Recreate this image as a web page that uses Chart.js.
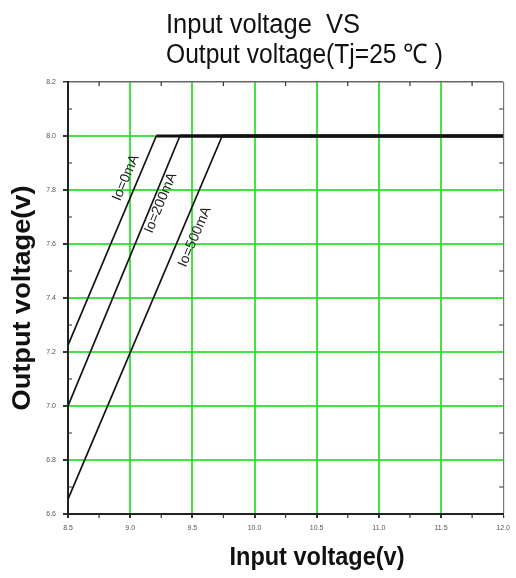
<!DOCTYPE html>
<html>
<head>
<meta charset="utf-8">
<script src="https://cdn.jsdelivr.net/npm/chart.js@4.4.1/dist/chart.umd.min.js"></script>
<style>
  html, body { margin: 0; padding: 0; background: #fff; }
  #wrap { width: 516px; height: 578px; }
</style>
</head>
<body>
<div id="wrap"><canvas id="voltCanvas"></canvas></div>
<script>
// axis ticks
const xTicks = [8.5, 9.0, 9.5, 10.0, 10.5, 11.0, 11.5, 12.0];
const yTicks = [6.6, 6.8, 7.0, 7.2, 7.4, 7.6, 7.8, 8.0, 8.2];
const xMinor = [8.75, 9.25, 9.75, 10.25, 10.75, 11.25, 11.75];
const yMinor = [6.7, 6.9, 7.1, 7.3, 7.5, 7.7, 7.9, 8.1];

// series (input voltage -> output voltage)
const seriesNames = ['Io=0mA', 'Io=200mA', 'Io=500mA'];
const io0X = [8.5, 9.21, 12.0];
const io0Y = [7.225, 8.0, 8.0];
const io200X = [8.5, 9.40, 12.0];
const io200Y = [7.0, 8.0, 8.0];
const io500X = [8.5, 9.74, 12.0];
const io500Y = [6.655, 8.0, 8.0];

// where the rotated series names sit
const labelX = [8.965, 9.245, 9.52];
const labelY = [7.845, 7.752, 7.626];

const titleLines = ['Input voltage  VS', 'Output voltage(Tj=25 \u2103 )'];
const xTitle = 'Input voltage(v)';
const yTitle = 'Output voltage(v)';

const toPoints = (xs, ys) => xs.map((x, i) => ({ x: x, y: ys[i] }));
const allX = [io0X, io200X, io500X];
const allY = [io0Y, io200Y, io500Y];

const datasets = allX.map((xs, i) => ({
  label: seriesNames[i],
  data: toPoints(xs, allY[i]),
  borderColor: '#111',
  borderWidth: 1.7,
  pointRadius: 0,
  tension: 0,
  segment: {
    borderWidth: ctx => (ctx.p0.parsed.y === ctx.p1.parsed.y ? 3 : 1.7)
  }
}));

// draw text squeezed/stretched to a given width
function fitText(ctx, text, x, y, font, width, rot) {
  ctx.save();
  ctx.font = font;
  const w = ctx.measureText(text).width;
  ctx.translate(x, y);
  if (rot) ctx.rotate(rot);
  ctx.scale(width / w, 1);
  ctx.fillText(text, 0, 0);
  ctx.restore();
}

const decorPlugin = {
  id: 'decor',
  afterDatasetsDraw(chart) {
    const ctx = chart.ctx;
    const xs = chart.scales.x, ys = chart.scales.y;
    ctx.save();
    ctx.fillStyle = '#222';
    ctx.font = '14px "Liberation Sans", Arial, sans-serif';
    ctx.textAlign = 'center';
    ctx.textBaseline = 'middle';
    seriesNames.forEach((name, i) => {
      const dx = xs.getPixelForValue(allX[i][1]) - xs.getPixelForValue(allX[i][0]);
      const dy = ys.getPixelForValue(allY[i][1]) - ys.getPixelForValue(allY[i][0]);
      ctx.save();
      ctx.translate(xs.getPixelForValue(labelX[i]), ys.getPixelForValue(labelY[i]));
      ctx.rotate(Math.atan2(dy, dx));
      ctx.fillText(name, 0, 0);
      ctx.restore();
    });
    ctx.restore();
  },
  afterDraw(chart) {
    const ctx = chart.ctx;
    const a = chart.chartArea;
    const xs = chart.scales.x, ys = chart.scales.y;
    ctx.save();
    // minor ticks
    ctx.strokeStyle = '#333';
    ctx.lineWidth = 1.2;
    ctx.beginPath();
    xMinor.forEach(v => {
      const px = xs.getPixelForValue(v);
      ctx.moveTo(px, a.bottom); ctx.lineTo(px, a.bottom + 4);
      ctx.moveTo(px, a.top); ctx.lineTo(px, a.top + 4);
    });
    yMinor.forEach(v => {
      const py = ys.getPixelForValue(v);
      ctx.moveTo(a.left, py); ctx.lineTo(a.left + 4, py);
      ctx.moveTo(a.right, py); ctx.lineTo(a.right - 4, py);
    });
    ctx.stroke();

    // titles
    ctx.fillStyle = '#111';
    ctx.textAlign = 'left';
    ctx.textBaseline = 'alphabetic';
    fitText(ctx, titleLines[0], 166, 33, '27px "Liberation Sans", Arial, sans-serif', 194);
    fitText(ctx, titleLines[1], 166, 63, '27px "Liberation Sans", Arial, sans-serif', 277);
    ctx.textAlign = 'center';
    ctx.textBaseline = 'middle';
    fitText(ctx, xTitle, 317, 558, 'bold 25px "Liberation Sans", Arial, sans-serif', 175);
    fitText(ctx, yTitle, 23, 298, 'bold 25px "Liberation Sans", Arial, sans-serif', 225, -Math.PI / 2);
    ctx.restore();
  }
};

const config = {
  type: 'line',
  data: { datasets: datasets },
  options: {
    responsive: true,
    maintainAspectRatio: false,
    animation: false,
    layout: { padding: { top: 82, right: 11, left: 0, bottom: 0 } },
    plugins: {
      legend: { display: false },
      tooltip: { enabled: false },
      title: { display: false }
    },
    scales: {
      x: {
        type: 'linear',
        min: 8.5,
        max: 12.0,
        afterBuildTicks: s => { s.ticks = xTicks.map(v => ({ value: v })); },
        afterFit: s => { s.height = 64; },
        ticks: {
          callback: v => Number(v).toFixed(1),
          font: { size: 7, family: '"Liberation Sans", Arial, sans-serif' },
          color: '#555',
          padding: 6,
          maxRotation: 0,
          autoSkip: false
        },
        grid: {
          color: c => (c.tick && c.tick.value === 12.0 ? '#777' : 'rgba(20,220,20,0.8)'),
          lineWidth: c => (c.tick && c.tick.value === 12.0 ? 1.2 : 2),
          tickColor: '#333',
          tickLength: 4
        },
        border: { color: '#222', width: 2 }
      },
      y: {
        type: 'linear',
        min: 6.6,
        max: 8.2,
        afterBuildTicks: s => { s.ticks = yTicks.map(v => ({ value: v })); },
        afterFit: s => { s.width = 68; },
        ticks: {
          callback: v => Number(v).toFixed(1),
          font: { size: 7, family: '"Liberation Sans", Arial, sans-serif' },
          color: '#555',
          padding: 7
        },
        grid: {
          color: c => (c.tick && c.tick.value === 8.2 ? '#666' : 'rgba(20,220,20,0.8)'),
          lineWidth: c => (c.tick && c.tick.value === 8.2 ? 1.5 : 2),
          tickColor: '#333',
          tickLength: 5
        },
        border: { color: '#222', width: 2 }
      }
    }
  },
  plugins: [decorPlugin]
};

const canvas = document.getElementById('voltCanvas');
if (canvas) {
  new Chart(canvas.getContext('2d'), config);
} else {
  console.error('no canvas');
}
</script>
</body>
</html>
